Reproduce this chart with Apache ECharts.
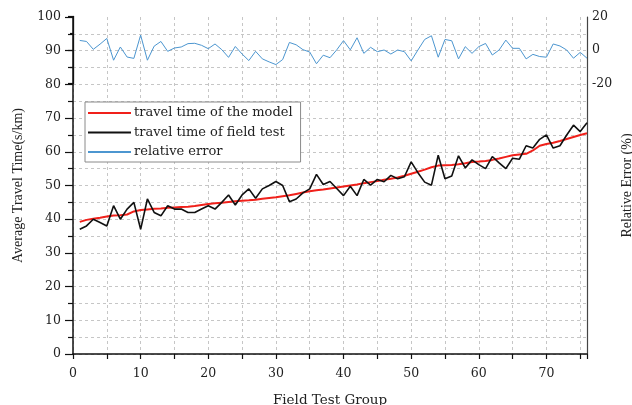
<!DOCTYPE html>
<html>
<head>
<meta charset="utf-8">
<title>Travel time: model vs field test</title>
<script src="https://cdn.jsdelivr.net/npm/echarts@6/dist/echarts.min.js"></script>
<style>
  html, body { margin: 0; padding: 0; background: #ffffff; }
  #chart { width: 632px; height: 405px; }
</style>
</head>
<body>
<div id="chart"></div>
<script>
// Field test group numbers
const groups = [
  1, 2, 3, 4, 5, 6, 7, 8, 9, 10, 11, 12, 13, 14, 15, 16, 17, 18, 19, 20,
  21, 22, 23, 24, 25, 26, 27, 28, 29, 30, 31, 32, 33, 34, 35, 36, 37, 38, 39, 40,
  41, 42, 43, 44, 45, 46, 47, 48, 49, 50, 51, 52, 53, 54, 55, 56, 57, 58, 59, 60,
  61, 62, 63, 64, 65, 66, 67, 68, 69, 70, 71, 72, 73, 74, 75, 76
];

// Average travel time predicted by the model (s/km)
const modelTime = [
  39.2, 39.8, 40.1, 40.4, 40.8, 41.1, 41.2, 41.4, 42.3, 42.7,
  42.9, 43.1, 43.2, 43.4, 43.5, 43.6, 43.7, 43.9, 44.2, 44.5,
  44.7, 44.9, 45.1, 45.3, 45.5, 45.6, 45.8, 46.1, 46.3, 46.5,
  46.8, 47.1, 47.5, 47.9, 48.3, 48.6, 48.8, 49.1, 49.4, 49.7,
  50.0, 50.3, 50.7, 51.0, 51.3, 51.7, 52.0, 52.4, 52.9, 53.5,
  54.1, 54.7, 55.4, 55.9, 56.0, 56.1, 56.3, 56.6, 57.0, 57.1,
  57.3, 57.6, 58.0, 58.5, 59.0, 59.2, 59.4, 60.4, 61.8, 62.3,
  62.7, 63.2, 63.8, 64.4, 65.0, 65.5
];

// Average travel time measured in the field (s/km)
const fieldTime = [
  37, 38, 40, 39, 38, 44, 40, 43, 45, 37,
  46, 42, 41, 44, 43, 43, 42, 42, 43, 44,
  43, 45, 47.2, 44.2, 47.2, 49, 46.2, 49, 50, 51.2,
  50, 45.2, 46, 47.8, 49, 53.3, 50.3, 51.2, 49.1, 47,
  49.8, 47, 51.8, 50.1, 51.8, 51.1, 53, 52, 52.6, 57,
  53.8, 51, 50.1, 59, 52, 52.8, 58.8, 55.2, 57.6, 56.2,
  55, 58.6, 56.7, 55, 58.1, 57.8, 61.8, 61.1, 63.7, 65,
  61.1, 61.8, 65, 67.9, 66, 68.6
];

// Relative error between model and field test (%)
const relError = [
  5.7, 5.1, 0.4, 3.5, 6.9, -6.1, 1.8, -4.2, -5, 8.9,
  -6.1, 2.3, 5.1, -0.8, 1.2, 1.8, 3.8, 4, 2.8, 0.8,
  3.6, 0.2, -4.4, 2.1, -2.4, -6.3, -0.8, -5.3, -7.1, -8.7,
  -5.7, 4.5, 3.1, 0.2, -1.2, -8.2, -3.1, -4.6, 0.1, 5.6,
  0.1, 7.3, -2, 1.6, -1, 0, -2.4, 0, -1, -6.5,
  0, 6.3, 8.5, -4.3, 6.3, 5.5, -5.3, 2, -2, 2,
  3.9, -3, 0, 5.9, 1, 1, -5.3, -2.6, -3.9, -4.3,
  3.6, 2.4, 0, -4.9, -1.4, -4.9
];

const seriesNames = ['travel time of the model', 'travel time of field test', 'relative error'];

const pairs = (ys) => groups.map((g, i) => [g, ys[i]]);

const serif = 'DejaVu Serif';
const titleSerif = 'Liberation Serif';
const textColor = '#222';
const gridDash = { color: '#c6c6c6', type: [3, 3], width: 1 };

const chart = echarts.init(document.getElementById('chart'), null, { renderer: 'canvas' });

chart.setOption({
  animation: false,
  backgroundColor: '#ffffff',
  grid: [
    { left: 73, right: 45, top: 17, bottom: 51, outerBoundsMode: 'none', containLabel: false },
    { left: 73, right: 45, top: 16.5, height: 67, outerBoundsMode: 'none', containLabel: false }
  ],
  legend: {
    data: seriesNames,
    orient: 'vertical',
    left: 85,
    top: 102,
    padding: [4, 8, 3, 2],
    itemGap: 5.5,
    itemWidth: 43,
    itemHeight: 14,
    backgroundColor: '#ffffff',
    borderColor: '#8a8a8a',
    borderWidth: 1,
    itemStyle: { opacity: 0 },
    textStyle: { fontFamily: serif, fontSize: 13, color: textColor, lineHeight: 14, padding: [0, 0, 0, -2] }
  },
  xAxis: [
    {
      gridIndex: 0,
      type: 'value',
      min: 0,
      max: 76,
      interval: 5,
      name: 'Field Test Group',
      nameLocation: 'middle',
      nameGap: 39,
      nameTextStyle: { fontFamily: serif, fontSize: 13.5, color: textColor },
      axisLine: { lineStyle: { color: '#111', width: 1.5 } },
      axisTick: { length: 5, lineStyle: { color: '#111', width: 1.2 } },
      axisLabel: {
        margin: 13,
        fontFamily: serif,
        fontSize: 12.5,
        color: textColor,
        formatter: (v) => (v % 10 === 0 ? String(v) : '')
      },
      splitLine: { show: true, lineStyle: gridDash }
    },
    {
      gridIndex: 1,
      type: 'value',
      min: 0,
      max: 76,
      show: false
    }
  ],
  yAxis: [
    {
      gridIndex: 0,
      type: 'value',
      position: 'left',
      min: 0,
      max: 100,
      interval: 10,
      name: 'Average Travel Time(s/km)',
      nameLocation: 'middle',
      nameGap: 48,
      nameTextStyle: { fontFamily: titleSerif, fontSize: 14, color: textColor },
      axisLine: { show: true, lineStyle: { color: '#111', width: 1.5 } },
      axisTick: { show: true, length: 8, lineStyle: { color: '#111', width: 1.2 } },
      minorTick: { show: true, splitNumber: 2, length: 5, lineStyle: { color: '#111', width: 1.2 } },
      axisLabel: { margin: 12, fontFamily: serif, fontSize: 12.5, color: textColor },
      splitLine: { show: true, showMaxLine: false, lineStyle: gridDash },
      minorSplitLine: { show: true, lineStyle: gridDash }
    },
    {
      gridIndex: 0,
      type: 'value',
      position: 'right',
      min: 0,
      max: 100,
      name: 'Relative Error (%)',
      nameLocation: 'middle',
      nameGap: 33,
      nameRotate: 90,
      nameTextStyle: { fontFamily: titleSerif, fontSize: 14, color: textColor },
      axisLine: { show: true, lineStyle: { color: '#444', width: 1.2 } },
      axisTick: { show: false },
      axisLabel: { show: false },
      splitLine: { show: false }
    },
    {
      gridIndex: 1,
      type: 'value',
      position: 'right',
      min: -20,
      max: 20,
      interval: 20,
      axisLine: { show: true, lineStyle: { color: '#111', width: 1.3 } },
      axisTick: { show: true, inside: true, length: 5, lineStyle: { color: '#111', width: 1.2 } },
      minorTick: { show: true, splitNumber: 2, length: 3, lineStyle: { color: '#111', width: 1.2 } },
      axisLabel: { margin: 5, fontFamily: serif, fontSize: 12.5, color: textColor },
      splitLine: { show: false }
    }
  ],
  series: [
    {
      name: seriesNames[0],
      type: 'line',
      xAxisIndex: 0,
      yAxisIndex: 0,
      data: pairs(modelTime),
      symbol: 'none',
      color: '#f0201a',
      lineStyle: { color: '#f0201a', width: 2 },
      z: 3
    },
    {
      name: seriesNames[1],
      type: 'line',
      xAxisIndex: 0,
      yAxisIndex: 0,
      data: pairs(fieldTime),
      symbol: 'none',
      color: '#111111',
      lineStyle: { color: '#111111', width: 1.6 },
      z: 4
    },
    {
      name: seriesNames[2],
      type: 'line',
      xAxisIndex: 1,
      yAxisIndex: 2,
      data: pairs(relError),
      symbol: 'none',
      color: '#4c96d0',
      lineStyle: { color: '#4c96d0', width: 1 },
      z: 3
    }
  ]
});
</script>
</body>
</html>
